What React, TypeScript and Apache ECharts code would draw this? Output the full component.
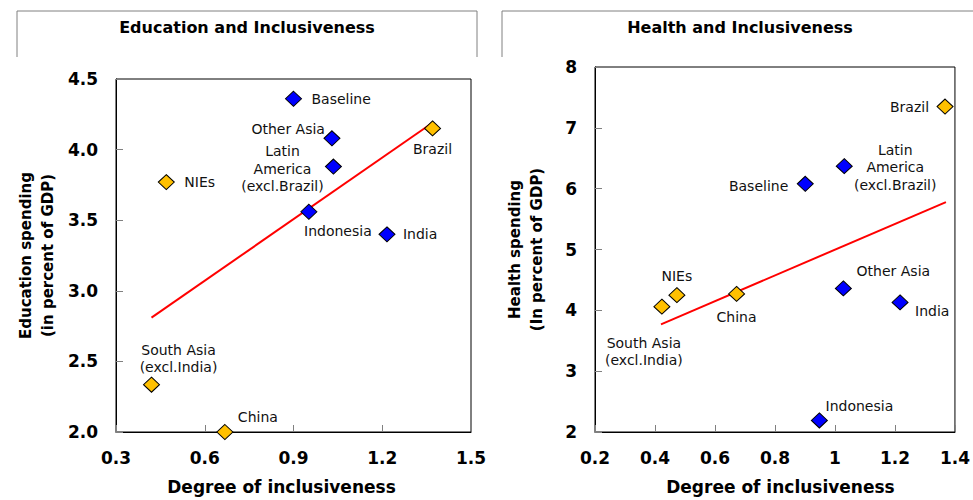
import React, { useEffect, useRef } from "react";
import * as echarts from "echarts";

// ---------- data ----------
const regions = [
  "Baseline",
  "Other Asia",
  "Latin\nAmerica\n(excl.Brazil)",
  "NIEs",
  "Brazil",
  "Indonesia",
  "India",
  "South Asia\n(excl.India)",
  "China",
];
const regionGroup = ["blue", "blue", "blue", "gold", "gold", "blue", "blue", "gold", "gold"];

const eduX = [0.9, 1.03, 1.035, 0.47, 1.37, 0.952, 1.216, 0.42, 0.668];
const eduY = [4.36, 4.08, 3.88, 3.77, 4.15, 3.56, 3.4, 2.335, 2.0];
const eduTrend = [
  [0.42, 2.81],
  [1.37, 4.19],
];

const hlthX = [0.901, 1.028, 1.031, 0.473, 1.367, 0.948, 1.217, 0.423, 0.672];
const hlthY = [6.08, 4.36, 6.37, 4.25, 7.35, 2.19, 4.13, 4.06, 4.27];
const hlthTrend = [
  [0.42, 3.77],
  [1.37, 5.78],
];

const eduXTicks = { min: 0.3, max: 1.5, interval: 0.3 };
const eduYTicks = { min: 2, max: 4.5, interval: 0.5 };
const hlthXTicks = { min: 0.2, max: 1.4, interval: 0.2 };
const hlthYTicks = { min: 2, max: 8, interval: 1 };

// ---------- styling / label layout ----------
const COLORS: Record<string, string> = { blue: "#0000FF", gold: "#FFC000" };
const FONT = "DejaVu Sans";

type LL = { align: "left" | "right" | "center"; offset: [number, number] };
const eduLabels: LL[] = [
  { align: "left", offset: [18, 0] },
  { align: "right", offset: [-7, -9] },
  { align: "center", offset: [-51, 2] },
  { align: "left", offset: [18, 0] },
  { align: "center", offset: [0, 21] },
  { align: "center", offset: [29, 19] },
  { align: "left", offset: [16, 0] },
  { align: "center", offset: [27, -26] },
  { align: "left", offset: [13, -15] },
];
const hlthLabels: LL[] = [
  { align: "right", offset: [-17, 2] },
  { align: "center", offset: [50, -17] },
  { align: "center", offset: [51, 1] },
  { align: "center", offset: [0, -19] },
  { align: "right", offset: [-16, 0] },
  { align: "center", offset: [40, -14] },
  { align: "left", offset: [15, 9] },
  { align: "center", offset: [-18, 45] },
  { align: "center", offset: [0, 23] },
];

function buildPoints(xs: number[], ys: number[], layout: LL[]) {
  return regions.map((name, i) => ({
    name,
    value: [xs[i], ys[i]],
    itemStyle: { color: COLORS[regionGroup[i]], opacity: 1 },
    label: {
      show: true,
      position: "inside",
      formatter: name,
      align: layout[i].align,
      verticalAlign: "middle",
      offset: layout[i].offset,
    },
  }));
}

const axisLabelStyle = {
  color: "#000",
  fontFamily: FONT,
  fontWeight: "bold" as const,
  fontSize: 17,
};

export default function App() {
  const ref = useRef<HTMLDivElement>(null);

  useEffect(() => {
    if (!ref.current) return;
    const chart = echarts.init(ref.current, undefined, { renderer: "svg" });

    const xAxisCommon = (i: number, t: any, pad: number[]) => ({
      type: "value",
      gridIndex: i,
      ...t,
      name: "Degree of inclusiveness",
      nameLocation: "middle",
      nameGap: 46,
      nameTextStyle: {
        color: "#000",
        fontFamily: FONT,
        fontWeight: "bold",
        fontSize: 17,
        padding: pad,
      },
      axisLine: { show: true, lineStyle: { color: "#000", width: 1 } },
      axisTick: { show: true, inside: true, length: 7, lineStyle: { color: "#808080" } },
      axisLabel: { ...axisLabelStyle, margin: 17 },
      splitLine: { show: false },
    });

    const yAxisCommon = (i: number, t: any, name: string, gap: number, fmt?: (v: number) => string) => ({
      type: "value",
      gridIndex: i,
      ...t,
      name,
      nameLocation: "middle",
      nameRotate: 90,
      nameGap: gap,
      nameTextStyle: {
        color: "#000",
        fontFamily: FONT,
        fontWeight: "bold",
        fontSize: 15,
        lineHeight: 22,
        align: "center",
      },
      axisLine: { show: true, lineStyle: { color: "#000", width: 1 } },
      axisTick: { show: true, inside: true, length: 7, lineStyle: { color: "#808080" } },
      axisLabel: { ...axisLabelStyle, margin: 18, formatter: fmt },
      splitLine: { show: false },
    });

    const scatterCommon = {
      type: "scatter",
      symbol: "diamond",
      symbolSize: [16, 15],
      itemStyle: { borderColor: "#000", borderWidth: 1, opacity: 1 },
      label: {
        fontFamily: FONT,
        fontSize: 14,
        color: "#111",
        textBorderWidth: 0,
        lineHeight: 17.5,
      },
      emphasis: { disabled: true },
      z: 3,
    };

    const trendCommon = {
      type: "line",
      symbol: "none",
      lineStyle: { color: "#FF0000", width: 2 },
      z: 2,
      silent: true,
    };

    const boxStyle = { stroke: "#808080", lineWidth: 1, fill: "none" };

    chart.setOption({
      animation: false,
      backgroundColor: "#fff",
      grid: [
        { left: 116, top: 79, width: 355, height: 358, show: true, borderColor: "#000", borderWidth: 1 },
        { left: 595, top: 67, width: 361, height: 371, show: true, borderColor: "#000", borderWidth: 1 },
      ],
      xAxis: [xAxisCommon(0, eduXTicks, [0, 24, 0, 0]), xAxisCommon(1, hlthXTicks, [0, 0, 0, 11])],
      yAxis: [
        yAxisCommon(0, eduYTicks, "Education spending\n(in percent of GDP)", 57, (v: number) => v.toFixed(1)),
        yAxisCommon(1, hlthYTicks, "Health spending\n(In percent of GDP)", 47),
      ],
      graphic: [
        {
          type: "polyline",
          shape: { points: [[17, 57], [17, 11], [477, 11], [477, 57]] },
          style: boxStyle,
        },
        {
          type: "polyline",
          shape: { points: [[502, 57], [502, 11], [975, 11]] },
          style: boxStyle,
        },
        {
          type: "text",
          x: 247,
          y: 27,
          style: {
            text: "Education and Inclusiveness",
            fontFamily: FONT,
            fontWeight: "bold",
            fontSize: 16,
            fill: "#000",
            align: "center",
            verticalAlign: "middle",
          },
        },
        {
          type: "text",
          x: 740,
          y: 27,
          style: {
            text: "Health and Inclusiveness",
            fontFamily: FONT,
            fontWeight: "bold",
            fontSize: 16,
            fill: "#000",
            align: "center",
            verticalAlign: "middle",
          },
        },
      ],
      series: [
        { ...trendCommon, xAxisIndex: 0, yAxisIndex: 0, data: eduTrend },
        { ...scatterCommon, xAxisIndex: 0, yAxisIndex: 0, data: buildPoints(eduX, eduY, eduLabels) },
        { ...trendCommon, xAxisIndex: 1, yAxisIndex: 1, data: hlthTrend },
        { ...scatterCommon, xAxisIndex: 1, yAxisIndex: 1, data: buildPoints(hlthX, hlthY, hlthLabels) },
      ],
    });

    return () => chart.dispose();
  }, []);

  return (
    <div
      ref={ref}
      style={{ position: "fixed", left: 0, top: 0, width: 973, height: 500, background: "#fff" }}
    />
  );
}
